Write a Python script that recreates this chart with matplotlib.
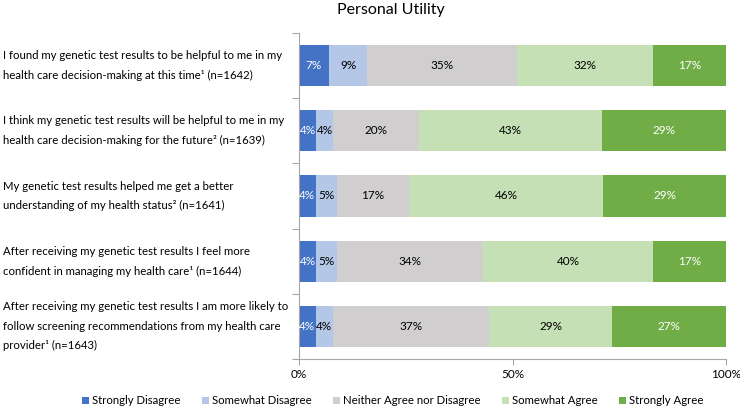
import numpy as np
import matplotlib.pyplot as plt
import matplotlib.transforms as mtransforms

plt.rcParams['font.family'] = ['Lato', 'DejaVu Sans']

statements = [
    "I found my genetic test results to be helpful to me in my\nhealth care decision-making at this time\u00b9 (n=1642)",
    "I think my genetic test results will be helpful to me in my\nhealth care decision-making for the future\u00b2 (n=1639)",
    "My genetic test results helped me get a better\nunderstanding of my health status\u00b2 (n=1641)",
    "After receiving my genetic test results I feel more\nconfident in managing my health care\u00b9 (n=1644)",
    "After receiving my genetic test results I am more likely to\nfollow screening recommendations from my health care\nprovider\u00b9 (n=1643)",
]
responses = ["Strongly Disagree", "Somewhat Disagree", "Neither Agree nor Disagree",
             "Somewhat Agree", "Strongly Agree"]
strongly_disagree = [7, 4, 4, 4, 4]
somewhat_disagree = [9, 4, 5, 5, 4]
neither = [35, 20, 17, 34, 37]
somewhat_agree = [32, 43, 46, 40, 29]
strongly_agree = [17, 29, 29, 17, 27]

colors = ["#4472C4", "#B4C7E7", "#D0CECE", "#C5E0B4", "#70AD47"]
text_colors = ["white", "black", "black", "black", "white"]

vals = np.array([strongly_disagree, somewhat_disagree, neither, somewhat_agree, strongly_agree], dtype=float)
shares = vals / vals.sum(axis=0) * 100  # 100% stacked, like the original

fig = plt.figure(figsize=(7.4, 4.08), dpi=100)
ax = fig.add_axes([299/740, 1-359/408, 427/740, 326/408])

y = np.arange(len(statements))
left = np.zeros(len(statements))
for i in range(len(responses)):
    ax.barh(y, shares[i], left=left, height=0.63, color=colors[i], label=responses[i])
    for j in range(len(statements)):
        ax.text(left[j] + shares[i][j]/2, y[j], f"{int(vals[i][j])}%", ha='center', va='center',
                fontsize=8.5, color=text_colors[i])
    left += shares[i]

ax.set_xlim(0, 100)
ax.set_ylim(len(statements) - 0.5, -0.5)
ax.set_xticks([0, 50, 100])
ax.set_xticklabels(["0%", "50%", "100%"], fontsize=8.5)
ax.set_yticks(np.arange(-0.5, len(statements), 1))
ax.set_yticklabels([])
ax.tick_params(axis='y', length=5, color='#A6A6A6', width=0.8)
ax.tick_params(axis='x', length=4, color='#A6A6A6', width=0.8, pad=3)
for s in ['top', 'right']:
    ax.spines[s].set_visible(False)
ax.spines['left'].set_color('#A6A6A6')
ax.spines['bottom'].set_color('#A6A6A6')

# statement labels, left aligned at the figure edge
trans = mtransforms.blended_transform_factory(fig.transFigure, ax.transData)
for j, s in enumerate(statements):
    ax.text(3/740, y[j], s, transform=trans, ha='left', va='center',
            fontsize=8.2, linespacing=1.95)

fig.text(391/740, 1-10/408, "Personal Utility", ha='center', va='center', fontsize=11.5)

fig.legend(loc='center', bbox_to_anchor=(393/740, 1-401/408), ncol=5, frameon=False,
           fontsize=8.2, handlelength=0.6, handleheight=0.6, handletextpad=0.25, columnspacing=1.9)

fig.savefig("out.png", dpi=100)
